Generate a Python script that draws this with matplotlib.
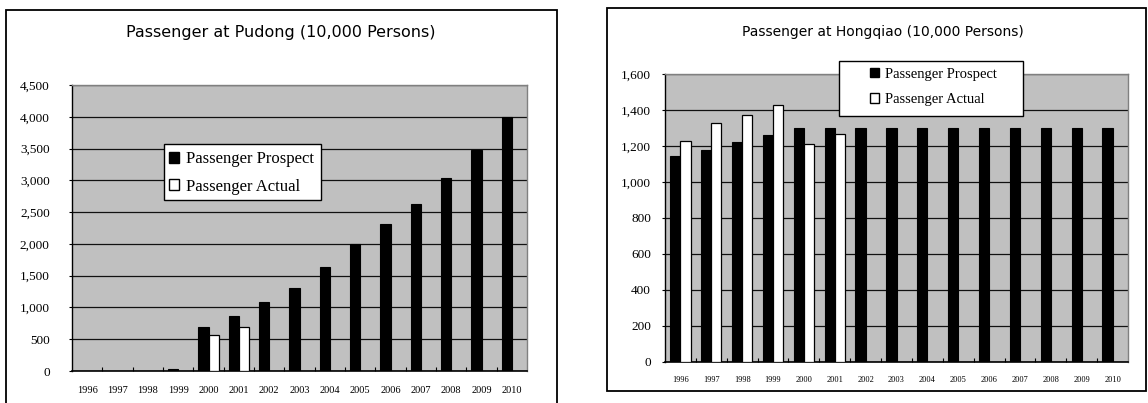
import numpy as np
import matplotlib
matplotlib.use("Agg")
import matplotlib.pyplot as plt
from matplotlib.patches import Rectangle, Patch

W, H = 1148, 403

years = ["1996", "1997", "1998", "1999", "2000", "2001", "2002", "2003",
         "2004", "2005", "2006", "2007", "2008", "2009", "2010"]

# passengers, unit 10,000 persons (nan = no bar)
pudong_prospect = [np.nan, np.nan, np.nan, 25, 700, 870, 1080, 1310,
                   1640, 2000, 2310, 2635, 3030, 3470, 4000]
pudong_actual = [np.nan, np.nan, np.nan, np.nan, 560, 700, np.nan, np.nan,
                 np.nan, np.nan, np.nan, np.nan, np.nan, np.nan, np.nan]

hongqiao_prospect = [1145, 1178, 1220, 1260, 1300, 1300, 1300, 1300,
                     1300, 1300, 1300, 1300, 1300, 1300, 1300]
hongqiao_actual = [1230, 1326, 1373, 1427, 1210, 1265, np.nan, np.nan,
                   np.nan, np.nan, np.nan, np.nan, np.nan, np.nan, np.nan]

labels = ["Passenger Prospect", "Passenger Actual"]


def px_axes(fig, x0, y0, x1, y1):
    return fig.add_axes([x0 / W, 1 - y1 / H, (x1 - x0) / W, (y1 - y0) / H])


def box(fig, x0, y0, x1, y1, lw=1.3, face=None, z=1):
    fig.add_artist(Rectangle((x0 / W, 1 - y1 / H), (x1 - x0) / W, (y1 - y0) / H,
                             transform=fig.transFigure, fill=face is not None,
                             facecolor=face, edgecolor="black",
                             linewidth=lw, zorder=z))


def draw(ax, prospect, actual, ymax, ystep, xfs, yfs, xpad):
    x = np.arange(len(years))
    w = 0.33
    ax.set_facecolor("#c0c0c0")
    ax.bar(x - w / 2, prospect, w, color="black", edgecolor="black",
           linewidth=0.8, zorder=3)
    ax.bar(x + w / 2, actual, w, color="white", edgecolor="black",
           linewidth=0.9, zorder=3)
    ax.set_xlim(-0.5, len(years) - 0.5)
    ax.set_ylim(0, ymax)
    ticks = np.arange(0, ymax + 1, ystep)
    ax.set_yticks(ticks)
    ax.set_yticklabels([f"{t:,}" for t in ticks], family="Liberation Serif",
                       fontsize=yfs)
    ax.set_xticks(x)
    ax.set_xticklabels(years, family="Liberation Serif", fontsize=xfs)
    ax.set_xticks(np.arange(0.5, len(years) - 1, 1), minor=True)
    ax.tick_params(axis="x", which="major", length=0, pad=xpad)
    ax.tick_params(axis="x", which="minor", direction="in", length=3,
                   width=0.8)
    ax.tick_params(axis="y", length=2, width=0.8, pad=3)
    ax.yaxis.grid(True, color="#111111", linewidth=0.9, zorder=1)
    ax.set_axisbelow(True)
    for s in ("top", "right"):
        ax.spines[s].set_color("#808080")
        ax.spines[s].set_linewidth(1)
    ax.spines["left"].set_linewidth(1)
    ax.spines["bottom"].set_linewidth(1.2)


def add_legend(fig, frame, hx, cy, fs, spacing):
    # white framed box, entries placed inside it
    box(fig, *frame, lw=1, face="white", z=5)
    handles = [Patch(facecolor="black", edgecolor="black"),
               Patch(facecolor="white", edgecolor="black")]
    leg = fig.legend(handles, labels, loc="center left",
                     bbox_to_anchor=(hx / W, 1 - cy / H),
                     bbox_transform=fig.transFigure, borderaxespad=0,
                     prop={"family": "Liberation Serif", "size": fs},
                     handlelength=0.6, handleheight=0.6, handletextpad=0.4,
                     labelspacing=spacing, borderpad=0, frameon=False)
    leg.set_zorder(6)


fig = plt.figure(figsize=(W / 100, H / 100), dpi=100)

# Pudong
box(fig, 6, 10, 557, 420)
fig.text(281 / W, 1 - 33 / H, "Passenger at Pudong (10,000 Persons)",
         ha="center", va="center", fontsize=11.5, family="DejaVu Sans")
ax1 = px_axes(fig, 72, 85, 527, 371)
draw(ax1, pudong_prospect, pudong_actual, 4500, 500, 7.5, 9.5, 11)
ax1.tick_params(axis="y", pad=14)
add_legend(fig, (164, 144, 321, 200), 169, 173, 12, 0.68)

# Hongqiao
box(fig, 607, 8, 1146, 391)
fig.text(883 / W, 1 - 32 / H, "Passenger at Hongqiao (10,000 Persons)",
         ha="center", va="center", fontsize=10, family="DejaVu Sans")
ax2 = px_axes(fig, 665, 74, 1128, 362)
draw(ax2, hongqiao_prospect, hongqiao_actual, 1600, 200, 6, 9.5, 10)
ax2.tick_params(axis="y", pad=8)
add_legend(fig, (839, 61, 1023, 116), 870, 87, 10.5, 0.85)

fig.savefig("out.png", dpi=100)
